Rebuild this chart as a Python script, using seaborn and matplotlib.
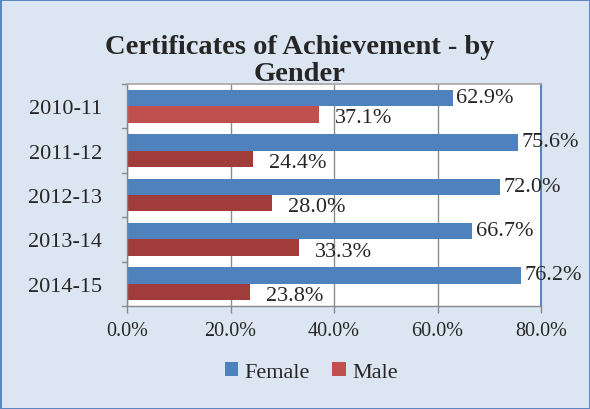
import seaborn as sns
import matplotlib.pyplot as plt
import pandas as pd

# data
years = ["2010-11", "2011-12", "2012-13", "2013-14", "2014-15"]
female = [62.9, 75.6, 72.0, 66.7, 76.2]
male = [37.1, 24.4, 28.0, 33.3, 23.8]

df = pd.DataFrame({
    "year": years * 2,
    "share": female + male,
    "gender": ["Female"] * len(years) + ["Male"] * len(years),
})

sns.set_theme(style="white")
plt.rcParams["font.family"] = ["Liberation Serif", "DejaVu Serif"]

BLUE = "#4f81bd"
RED = "#c0504d"
RED_DARK = "#a03c3a"
BG = "#dce6f2"

fig = plt.figure(figsize=(5.9, 4.1), dpi=100)
fig.patch.set_facecolor(BG)
fig.patch.set_edgecolor("#5b86c0")
fig.patch.set_linewidth(2)

ax = fig.add_axes([0.2153, 0.2512, 0.7017, 0.5415])
sns.barplot(data=df, y="year", x="share", hue="gender", orient="h",
            hue_order=["Female", "Male"], palette=[BLUE, RED],
            width=0.74, saturation=1, errorbar=None, linewidth=0, ax=ax)

# male bars after the first look a bit darker
for i, p in enumerate(ax.containers[1].patches):
    if i > 0:
        p.set_facecolor(RED_DARK)

ax.set_facecolor("white")
ax.set_xlim(0, 80)
ax.set_ylim(len(years) - 0.5, -0.5)
ax.set_xticks([0, 20, 40, 60, 80])
ax.set_xticklabels([f"{v:.1f}%" for v in [0, 20, 40, 60, 80]], fontsize=14.5)
ax.tick_params(axis="y", labelsize=16, length=0, pad=18)
ax.tick_params(axis="x", length=5, width=1, color="#888888", direction="out", bottom=True, pad=6)
ax.set_xlabel("")
ax.set_ylabel("")
ax.grid(axis="x", color="#8c8c8c", linewidth=1)
ax.set_axisbelow(True)

# category separator ticks on the left axis
for b in [i - 0.5 for i in range(len(years) + 1)]:
    ax.plot([-0.012, 0], [b, b], transform=ax.get_yaxis_transform(),
            color="#888888", lw=1, clip_on=False)

for s in ["left", "bottom"]:
    ax.spines[s].set_color("#888888")
    ax.spines[s].set_linewidth(1)
ax.spines["top"].set_color("#a8a8a8")
ax.spines["right"].set_color("#5b86c0")
ax.spines["right"].set_linewidth(1.5)

# value labels
for v, p in zip(female, ax.containers[0].patches):
    ax.annotate(f"{v:.1f}%", (p.get_width(), p.get_y() + p.get_height() / 2),
                xytext=(2.5, 0.5), textcoords="offset points",
                va="center", ha="left", fontsize=16, annotation_clip=False)
for v, p in zip(male, ax.containers[1].patches):
    ax.annotate(f"{v:.1f}%", (p.get_width(), p.get_y() + p.get_height() / 2),
                xytext=(11.5, -2.5), textcoords="offset points",
                va="center", ha="left", fontsize=16, annotation_clip=False)

fig.text(0.508, 0.852, "Certificates of Achievement - by\nGender", ha="center",
         va="center", fontsize=20.5, fontweight="bold", linespacing=1.12)

leg = ax.legend(loc="center", bbox_to_anchor=(0.445, -0.297), ncol=2,
                frameon=False, fontsize=16, handlelength=0.6, handleheight=0.6,
                handletextpad=0.3, columnspacing=1.0)

fig.savefig("out.png", dpi=100, facecolor=fig.get_facecolor(),
            edgecolor=fig.get_edgecolor())
